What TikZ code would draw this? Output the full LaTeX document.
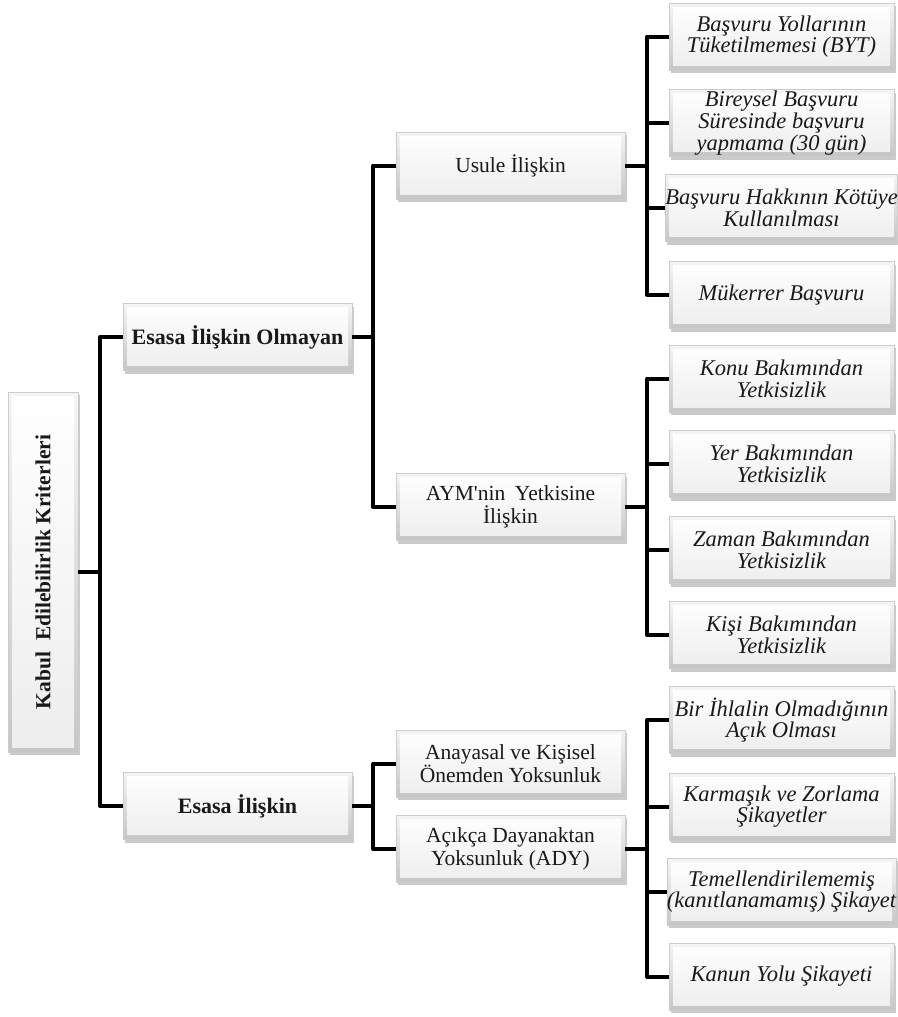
\documentclass[tikz,border=0pt]{standalone}
\usepackage{fontspec}
\setmainfont{Liberation Serif}[Ligatures=TeXOff]
\usetikzlibrary{shadows}
\tikzset{
  box/.style={rectangle, inner sep=0pt, align=center, text=black!90,
    draw=gray!40, line width=0.5pt,
    top color=gray!8, bottom color=gray!45,
    drop shadow={shadow xshift=2pt, shadow yshift=-3pt, opacity=0.35, fill=black!60},
    path picture={\shade[top color=white, bottom color=gray!14]
      ([shift={(4pt,-4pt)}]path picture bounding box.north west) rectangle
      ([shift={(-4pt,5pt)}]path picture bounding box.south east);},
    font=\fontsize{21.5}{23}\selectfont},
  rootbox/.style={box, minimum width=70pt, minimum height=360pt, font=\fontsize{21.5}{23}\selectfont\bfseries},
  lonebox/.style={box, minimum width=229pt, minimum height=67pt, font=\fontsize{22}{23}\selectfont\bfseries},
  midbox/.style={box, minimum width=229pt, minimum height=67pt},
  leafbox/.style={box, minimum width=225pt, minimum height=67pt, font=\fontsize{22.5}{21.7}\selectfont\itshape},
  conn/.style={line width=4pt, black, line join=round}
}
\begin{document}
\begin{tikzpicture}[x=1pt,y=-1pt]
\useasboundingbox (0,0) rectangle (897,1017);
% nodes
\node[rootbox] (root) at (43,572) {\rotatebox{90}{Kabul\hspace{0.25em} Edilebilirlik Kriterleri}};
\node[lonebox] (na) at (237.5,337) {Esasa İlişkin Olmayan};
\node[lonebox] (nb) at (237.5,806) {Esasa İlişkin};
\node[midbox] (m1) at (510.5,165.5) {Usule İlişkin};
\node[midbox] (m2) at (510.5,507) {AYM'nin\hspace{0.2em} Yetkisine\\İlişkin};
\node[midbox] (m3) at (510.5,763.5) {Anayasal ve Kişisel\\Önemden Yoksunluk};
\node[midbox] (m4) at (510.5,848.5) {Açıkça Dayanaktan\\Yoksunluk (ADY)};
\node[leafbox] (l1) at (781.5,36.5) {Başvuru Yollarının\\Tüketilmemesi (BYT)};
\node[leafbox] (l2) at (781.5,123) {Bireysel Başvuru\\Süresinde başvuru\\yapmama (30 gün)};
\node[leafbox] (l3) at (781.5,208) {Başvuru Hakkının Kötüye\\Kullanılması};
\node[leafbox] (l4) at (781.5,295) {Mükerrer Başvuru};
\node[leafbox] (l5) at (781.5,378.5) {Konu Bakımından\\Yetkisizlik};
\node[leafbox] (l6) at (781.5,464) {Yer Bakımından\\Yetkisizlik};
\node[leafbox] (l7) at (781.5,550) {Zaman Bakımından\\Yetkisizlik};
\node[leafbox] (l8) at (781.5,635) {Kişi Bakımından\\Yetkisizlik};
\node[leafbox] (l9) at (781.5,720) {Bir İhlalin Olmadığının\\Açık Olması};
\node[leafbox] (l10) at (781.5,806.5) {Karmaşık ve Zorlama\\Şikayetler};
\node[leafbox] (l11) at (781.5,891.5) {Temellendirilememiş\\(kanıtlanamamış) Şikayet};
\node[leafbox] (l12) at (781.5,976.5) {Kanun Yolu Şikayeti};
% connectors
\foreach \c in {na,nb} \draw[conn] (root.east) -- +(22,0) |- (\c.west);
\foreach \c in {m1,m2} \draw[conn] (na.east) -- +(21,0) |- (\c.west);
\foreach \c in {m3,m4} \draw[conn] (nb.east) -- +(21,0) |- (\c.west);
\foreach \c in {l1,l2,l3,l4} \draw[conn] (m1.east) -- +(22,0) |- (\c.west);
\foreach \c in {l5,l6,l7,l8} \draw[conn] (m2.east) -- +(22,0) |- (\c.west);
\foreach \c in {l9,l10,l11,l12} \draw[conn] (m4.east) -- +(22,0) |- (\c.west);
\end{tikzpicture}
\end{document}
